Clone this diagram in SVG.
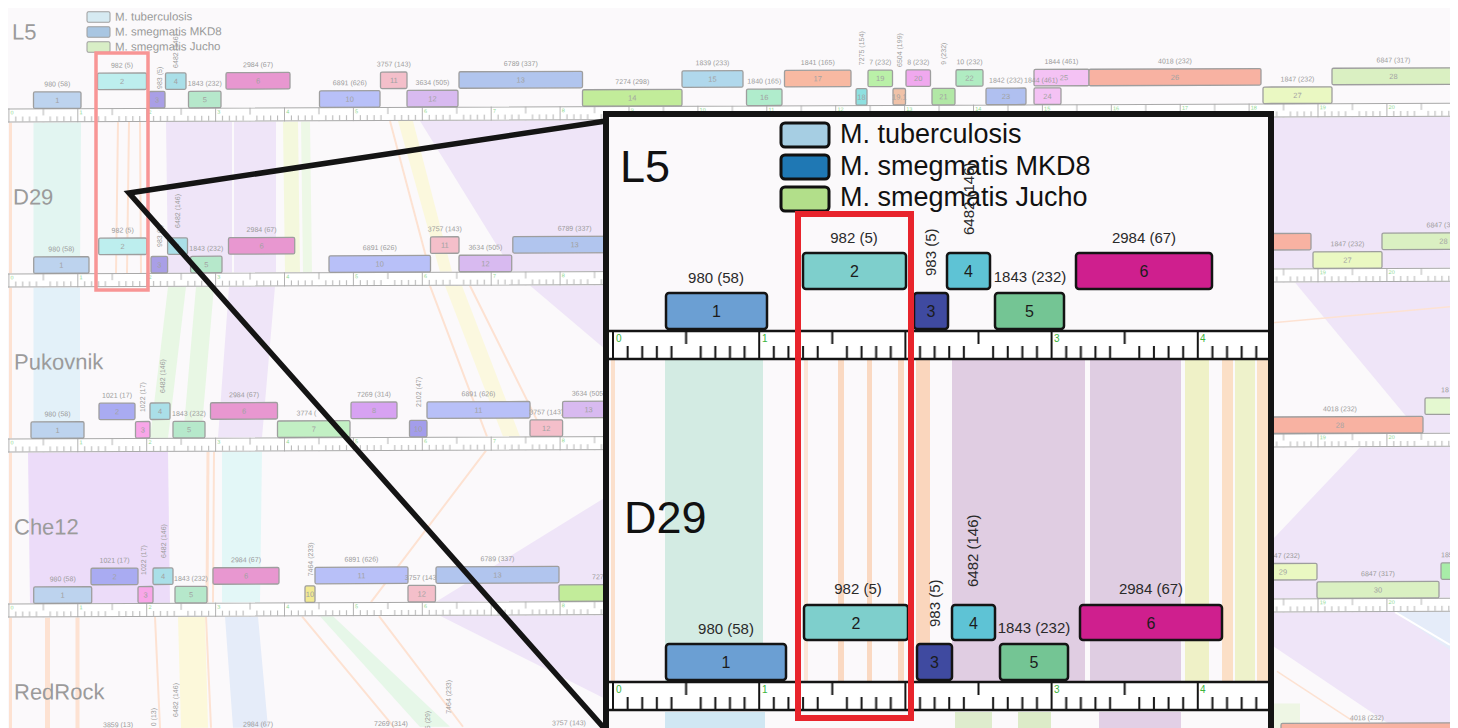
<svg xmlns="http://www.w3.org/2000/svg" width="1458" height="728" viewBox="0 0 1458 728">
<defs>
<style>
.gb{stroke:#9e9e9e;stroke-width:1.3}
.gl{font-family:"Liberation Sans",Arial,sans-serif;font-size:7px;fill:#9a9a9a;text-anchor:middle}
.gv{font-family:"Liberation Sans",Arial,sans-serif;font-size:7px;fill:#9a9a9a}
.gn{font-family:"Liberation Sans",Arial,sans-serif;font-size:7.5px;fill:#a2a2a2;text-anchor:middle}
.rn{font-family:"Liberation Sans",Arial,sans-serif;font-size:22px;fill:#9b9b9b}
.kb{font-family:"Liberation Sans",Arial,sans-serif;font-size:5.5px;fill:#8fd98f}
.rl{stroke:#a9a9a9;stroke-width:1;fill:none}
.pe{stroke:#fde2d2;fill:none}
.ib{stroke:#141414;stroke-width:2.5}
.il{font-family:"Liberation Sans",Arial,sans-serif;font-size:15px;fill:#2a2a2a;text-anchor:middle}
.iv{font-family:"Liberation Sans",Arial,sans-serif;font-size:15px;fill:#2a2a2a}
.in{font-family:"Liberation Sans",Arial,sans-serif;font-size:16px;fill:#1c1c1c;text-anchor:middle}
.ik{font-family:"Liberation Sans",Arial,sans-serif;font-size:10px;fill:#3cb43c}
.lg{font-family:"Liberation Sans",Arial,sans-serif;font-size:27px;fill:#111}
.lgs{font-family:"Liberation Sans",Arial,sans-serif;font-size:11.5px;fill:#999}
.big{font-family:"Liberation Sans",Arial,sans-serif;font-size:45px;fill:#111}
</style>
<pattern id="rb" x="8.4" y="0" width="68.9" height="14" patternUnits="userSpaceOnUse">
<path d="M0.5,0V14M34.95,0V7M7.39,8V13M14.28,8V13M21.17,8V13M28.06,8V13M41.84,8V13M48.73,8V13M55.62,8V13M62.51,8V13" stroke="#a9a9a9" stroke-width="0.9" fill="none"/>
</pattern>
<pattern id="ri" x="612" y="0" width="146.2" height="28" patternUnits="userSpaceOnUse">
<path d="M1,0V28M74.1,0V13M15.62,15V27M30.24,15V27M44.86,15V27M59.48,15V27M88.72,15V27M103.34,15V27M117.96,15V27M132.58,15V27" stroke="#141414" stroke-width="2" fill="none"/>
</pattern>
<clipPath id="mapClip"><rect x="8" y="8" width="1442" height="720"/></clipPath>
<clipPath id="insetClip"><rect x="606" y="114" width="665" height="614"/></clipPath>
</defs>
<rect width="1458" height="728" fill="#fff"/>
<rect x="8" y="8" width="1442" height="720" fill="#fbf9fb"/>
<g clip-path="url(#mapClip)">
<g id="map" transform="matrix(1,-0.004,0,1,0,0.6)">
<g id="bands">
<path class="pe" stroke-width="3" d="M10.5,122V273M10.5,287V438M10.5,452V603M10.5,617V728"/>
<path fill="#e2f5f1" d="M33.5,122H81L80,273H33.5Z"/>
<path class="pe" stroke-width="2" d="M118,122L116,273M129,122L127,273M140,122L141,273"/>
<path fill="#efe5f8" d="M166,122H232V273H168Z"/>
<path fill="#efe5f8" d="M234,122H276V273H234Z"/>
<path fill="#f4f8dd" d="M283,122H298L300,273H285Z"/>
<path fill="#edf8e6" d="M301,122H310L312,273H303Z"/>
<path class="pe" stroke-width="2" d="M390,122L430,273"/>
<path fill="#fbf8dd" d="M398,122H413L452,273H440Z"/>
<path fill="#efe5f8" d="M420,122H604V273H513Z"/>
<path fill="#efe5f8" d="M1265,122H1450V273H1265Z"/>
<path fill="#e3f1f9" d="M33.5,287H80V438H33.5Z"/>
<path fill="#e8f7e4" d="M168,287H186L168,438H150Z"/>
<path fill="#e8f7e4" d="M196,287H214L201,438H183Z"/>
<path fill="#efe5f8" d="M229,287H275L262,438H218Z"/>
<path fill="#fbf8df" d="M445,287H462L520,438H503Z"/>
<path class="pe" stroke-width="2" d="M430,287L487,438M470,287L545,438"/>
<path fill="#efe5f8" d="M530,287H604V350Z"/>
<path fill="#efe5f8" d="M1295,287H1450V438H1420Z"/>
<path class="pe" stroke-width="1.5" d="M1265,328L1450,312"/>
<path fill="#ecdcf9" d="M28,452H168L170,603H30Z"/>
<path fill="#e3f7f7" d="M222,452H262L260,603H222Z"/>
<path class="pe" stroke-width="3" d="M208,452L207,603"/>
<path class="pe" stroke-width="2" d="M214,452L213,603M486,452L371,603"/>
<path fill="#efe5f8" d="M604,500V603H436Z"/>
<path fill="#efe5f8" d="M1360,452H1450V603H1265V552Z"/>
<path class="pe" stroke-width="5" d="M47.5,617V728"/>
<path class="pe" stroke-width="4" d="M77.5,617V728"/>
<path class="pe" stroke-width="2" d="M155,617L160,728M206,617L211,728M302,617L394,728M379,617L463,728"/>
<path fill="#fcf8da" d="M178,617H205L208,728H181Z"/>
<path fill="#e5ecf9" d="M225,617H258L268,728H233Z"/>
<path fill="#e6f7e8" d="M320,617H333L450,728H420Z"/>
<path fill="#efe5f8" d="M440,617H604V700Z"/>
<path fill="#efe5f8" d="M1265,617H1450V733H1395L1265,645Z"/>
<path fill="#e5ecf9" d="M1395,617H1450V655Z"/>
<path stroke="#fff" stroke-width="2" fill="none" d="M1395,617L1450,650"/>
<path class="pe" stroke-width="1.5" d="M1277,676L1353,726"/>
<path fill="#eef6e4" d="M1265,708H1300V733H1265Z"/>
</g>
<g id="legend-small">
<rect x="87" y="11.5" width="23" height="10.5" rx="1.5" fill="#d6eaf2" stroke="#9e9e9e"/>
<rect x="87" y="26.5" width="23" height="10.5" rx="1.5" fill="#a9c6e2" stroke="#9e9e9e"/>
<rect x="87" y="41.5" width="23" height="10.5" rx="1.5" fill="#d8eec6" stroke="#9e9e9e"/>
<text class="lgs" x="115" y="20.5">M. tuberculosis</text>
<text class="lgs" x="115" y="35.5">M. smegmatis MKD8</text>
<text class="lgs" x="115" y="50.5">M. smegmatis Jucho</text>
</g>
<g id="row-L5" transform="translate(0,108)">
<text class="rn" x="12" y="-69">L5</text>
<rect x="8" y="0" width="1442" height="14" fill="#fff"/><rect x="8" y="0" width="1442" height="14" fill="url(#rb)"/>
<path class="rl" d="M8,0.5H1450M8,13.5H1450"/>
<g class="kb"><text x="10.6" y="6">0</text><text x="79.5" y="6">1</text><text x="148.4" y="6">2</text><text x="217.3" y="6">3</text><text x="286.2" y="6">4</text><text x="355.1" y="6">5</text><text x="424" y="6">6</text><text x="492.9" y="6">7</text><text x="561.8" y="6">8</text><text x="630.7" y="6">9</text><text x="699.6" y="6">10</text><text x="768.5" y="6">11</text><text x="837.4" y="6">12</text><text x="906.3" y="6">13</text><text x="975.2" y="6">14</text><text x="1044.1" y="6">15</text><text x="1113" y="6">16</text><text x="1181.9" y="6">17</text><text x="1250.8" y="6">18</text><text x="1319.7" y="6">19</text><text x="1388.6" y="6">20</text></g>
<g id="L5-1"><rect class="gb" x="33.5" y="-16.5" width="47.5" height="16.5" rx="1.5" fill="#bdd3ee"/><text class="gn" x="57.3" y="-5.5">1</text><text class="gl" x="57.3" y="-22">980 (58)</text></g>
<g id="L5-2"><rect class="gb" x="97.5" y="-35" width="49" height="16.5" rx="1.5" fill="#bdeeee"/><text class="gn" x="122" y="-24">2</text><text class="gl" x="122" y="-40.5">982 (5)</text></g>
<g id="L5-3"><rect class="gb" x="149" y="-16.5" width="16" height="16.5" rx="1.5" fill="#a99fe6"/><text class="gn" x="157" y="-5.5">3</text><text class="gv" transform="translate(161.5,-19) rotate(-90)">983 (5)</text></g>
<g id="L5-4"><rect class="gb" x="165.5" y="-35" width="20.5" height="16.5" rx="1.5" fill="#aadfe8"/><text class="gn" x="175.8" y="-24">4</text><text class="gv" transform="translate(177.5,-40) rotate(-90)">6482 (146)</text></g>
<g id="L5-5"><rect class="gb" x="188.5" y="-16.5" width="32.5" height="16.5" rx="1.5" fill="#b6e8cb"/><text class="gn" x="204.8" y="-5.5">5</text><text class="gl" x="204.8" y="-22">1843 (232)</text></g>
<g id="L5-6"><rect class="gb" x="226" y="-35" width="64" height="16.5" rx="1.5" fill="#e897d0"/><text class="gn" x="258" y="-24">6</text><text class="gl" x="258" y="-40.5">2984 (67)</text></g>
<g id="L5-10"><rect class="gb" x="319.5" y="-16.5" width="60.5" height="16.5" rx="1.5" fill="#b8c0f8"/><text class="gn" x="349.8" y="-5.5">10</text><text class="gl" x="349.8" y="-22">6891 (626)</text></g>
<g id="L5-11"><rect class="gb" x="380.5" y="-35" width="26.5" height="16.5" rx="1.5" fill="#f4bfca"/><text class="gn" x="393.8" y="-24">11</text><text class="gl" x="393.8" y="-40.5">3757 (143)</text></g>
<g id="L5-12"><rect class="gb" x="407" y="-16.5" width="51" height="16.5" rx="1.5" fill="#d8baf0"/><text class="gn" x="432.5" y="-5.5">12</text><text class="gl" x="432.5" y="-22">3634 (505)</text></g>
<g id="L5-13"><rect class="gb" x="459" y="-35" width="123.5" height="16.5" rx="1.5" fill="#b1c5ee"/><text class="gn" x="520.8" y="-24">13</text><text class="gl" x="520.8" y="-40.5">6789 (337)</text></g>
<g id="L5-14"><rect class="gb" x="582.5" y="-16.5" width="99.5" height="16.5" rx="1.5" fill="#c2ec9a"/><text class="gn" x="632.3" y="-5.5">14</text><text class="gl" x="632.3" y="-22">7274 (298)</text></g>
<g id="L5-15"><rect class="gb" x="682" y="-35" width="61" height="16.5" rx="1.5" fill="#b0d8ec"/><text class="gn" x="712.5" y="-24">15</text><text class="gl" x="712.5" y="-40.5">1839 (233)</text></g>
<g id="L5-16"><rect class="gb" x="746.5" y="-16.5" width="35.5" height="16.5" rx="1.5" fill="#b0eccc"/><text class="gn" x="764.3" y="-5.5">16</text><text class="gl" x="764.3" y="-22">1840 (165)</text></g>
<g id="L5-17"><rect class="gb" x="784.5" y="-35" width="66.5" height="16.5" rx="1.5" fill="#f8b9a2"/><text class="gn" x="817.8" y="-24">17</text><text class="gl" x="817.8" y="-40.5">1841 (165)</text></g>
<g id="L5-18"><rect class="gb" x="856" y="-16.5" width="11" height="16.5" rx="1.5" fill="#8ee0e0"/><text class="gn" x="861.5" y="-5.5">18</text><text class="gv" transform="translate(864,-40) rotate(-90)">7275 (154)</text></g>
<g id="L5-19"><rect class="gb" x="868" y="-35" width="24.5" height="16.5" rx="1.5" fill="#baf0a8"/><text class="gn" x="880.3" y="-24">19</text><text class="gl" x="880.3" y="-40.5">7 (232)</text></g>
<g id="L5-19-1"><rect class="gb" x="893" y="-16.5" width="12.5" height="16.5" rx="1.5" fill="#f0c2a8"/><text class="gn" x="899.3" y="-5.5">19.1</text><text class="gv" transform="translate(901.5,-38) rotate(-90)">6504 (199)</text></g>
<g id="L5-20"><rect class="gb" x="906" y="-35" width="24.5" height="16.5" rx="1.5" fill="#f0a8ee"/><text class="gn" x="918.3" y="-24">20</text><text class="gl" x="918.3" y="-40.5">8 (232)</text></g>
<g id="L5-21"><rect class="gb" x="932" y="-16.5" width="23" height="16.5" rx="1.5" fill="#b2e8a6"/><text class="gn" x="943.5" y="-5.5">21</text><text class="gv" transform="translate(945.5,-40) rotate(-90)">9 (232)</text></g>
<g id="L5-22"><rect class="gb" x="956" y="-35" width="27" height="16.5" rx="1.5" fill="#b0ecc2"/><text class="gn" x="969.5" y="-24">22</text><text class="gl" x="969.5" y="-40.5">10 (232)</text></g>
<g id="L5-23"><rect class="gb" x="986" y="-16.5" width="40" height="16.5" rx="1.5" fill="#b0c0f0"/><text class="gn" x="1006" y="-5.5">23</text><text class="gl" x="1006" y="-22">1842 (232)</text></g>
<g id="L5-25"><rect class="gb" x="1034" y="-35" width="55" height="16.5" rx="1.5" fill="#f4c2f4"/><text class="gn" x="1064" y="-24">25</text><text class="gl" x="1061.5" y="-40.5">1844 (461)</text></g>
<g id="L5-24"><rect class="gb" x="1034" y="-16.5" width="27" height="16.5" rx="1.5" fill="#f4c2f4"/><text class="gn" x="1047.5" y="-5.5">24</text><text class="gl" x="1041" y="-22">1844 (461)</text></g>
<g id="L5-26"><rect class="gb" x="1089" y="-35" width="172" height="16.5" rx="1.5" fill="#f8b2a2"/><text class="gn" x="1175" y="-24">26</text><text class="gl" x="1175" y="-40.5">4018 (232)</text></g>
<g id="L5-27"><rect class="gb" x="1263" y="-16.5" width="69" height="16.5" rx="1.5" fill="#eaf8c2"/><text class="gn" x="1297.5" y="-5.5">27</text><text class="gl" x="1297.5" y="-22">1847 (232)</text></g>
<g id="L5-28"><rect class="gb" x="1332" y="-35" width="123" height="16.5" rx="1.5" fill="#daf0c2"/><text class="gn" x="1393.5" y="-24">28</text><text class="gl" x="1393.5" y="-40.5">6847 (317)</text></g>
</g>
<g id="row-D29" transform="translate(0,273)">
<text class="rn" x="13" y="-69">D29</text>
<rect x="8" y="0" width="1442" height="14" fill="#fff"/><rect x="8" y="0" width="1442" height="14" fill="url(#rb)"/>
<path class="rl" d="M8,0.5H1450M8,13.5H1450"/>
<g class="kb"><text x="10.6" y="6">0</text><text x="79.5" y="6">1</text><text x="148.4" y="6">2</text><text x="217.3" y="6">3</text><text x="286.2" y="6">4</text><text x="355.1" y="6">5</text><text x="424" y="6">6</text><text x="492.9" y="6">7</text><text x="561.8" y="6">8</text><text x="1319.7" y="6">19</text><text x="1388.6" y="6">20</text></g>
<g id="D29-1"><rect class="gb" x="33.7" y="-16.5" width="55.3" height="16.5" rx="1.5" fill="#bdd3ee"/><text class="gn" x="61.4" y="-5.5">1</text><text class="gl" x="61.4" y="-22">980 (58)</text></g>
<g id="D29-2"><rect class="gb" x="98.7" y="-35" width="48" height="16.5" rx="1.5" fill="#bdeeee"/><text class="gn" x="122.7" y="-24">2</text><text class="gl" x="122.7" y="-40.5">982 (5)</text></g>
<g id="D29-3"><rect class="gb" x="151" y="-16.5" width="16.6" height="16.5" rx="1.5" fill="#a99fe6"/><text class="gn" x="159.3" y="-5.5">3</text><text class="gv" transform="translate(161.8,-26) rotate(-90)">983 (5)</text></g>
<g id="D29-4"><rect class="gb" x="167.6" y="-35" width="19.9" height="16.5" rx="1.5" fill="#aadfe8"/><text class="gn" x="177.6" y="-24">4</text><text class="gv" transform="translate(180,-45) rotate(-90)">6482 (146)</text></g>
<g id="D29-5"><rect class="gb" x="190.6" y="-16.5" width="31.4" height="16.5" rx="1.5" fill="#b6e8cb"/><text class="gn" x="206.3" y="-5.5">5</text><text class="gl" x="206.3" y="-22">1843 (232)</text></g>
<g id="D29-6"><rect class="gb" x="228.5" y="-35" width="66.2" height="16.5" rx="1.5" fill="#e897d0"/><text class="gn" x="261.6" y="-24">6</text><text class="gl" x="261.6" y="-40.5">2984 (67)</text></g>
<g id="D29-10"><rect class="gb" x="329" y="-16.5" width="101.5" height="16.5" rx="1.5" fill="#b8c0f8"/><text class="gn" x="379.8" y="-5.5">10</text><text class="gl" x="379.8" y="-22">6891 (626)</text></g>
<g id="D29-11"><rect class="gb" x="430.5" y="-35" width="28.5" height="16.5" rx="1.5" fill="#f4bfca"/><text class="gn" x="444.8" y="-24">11</text><text class="gl" x="444.8" y="-40.5">3757 (143)</text></g>
<g id="D29-12"><rect class="gb" x="459" y="-16.5" width="52.7" height="16.5" rx="1.5" fill="#d8baf0"/><text class="gn" x="485.4" y="-5.5">12</text><text class="gl" x="485.4" y="-22">3634 (505)</text></g>
<g id="D29-13"><rect class="gb" x="512.8" y="-35" width="123.5" height="16.5" rx="1.5" fill="#b1c5ee"/><text class="gn" x="574.6" y="-24">13</text><text class="gl" x="574.6" y="-40.5">6789 (337)</text></g>
<g id="D29-26"><rect class="gb" x="1138" y="-35" width="173" height="16.5" rx="1.5" fill="#f8b2a2"/></g>
<g id="D29-27"><rect class="gb" x="1313" y="-16.5" width="69" height="16.5" rx="1.5" fill="#eaf8c2"/><text class="gn" x="1347.5" y="-5.5">27</text><text class="gl" x="1347.5" y="-22">1847 (232)</text></g>
<g id="D29-28"><rect class="gb" x="1382" y="-35" width="123" height="16.5" rx="1.5" fill="#daf0c2"/><text class="gn" x="1443.5" y="-24">28</text><text class="gl" x="1443.5" y="-40.5">6847 (317)</text></g>
</g>
<g id="row-Pukovnik" transform="translate(0,438)">
<text class="rn" x="14" y="-69">Pukovnik</text>
<rect x="8" y="0" width="1442" height="14" fill="#fff"/><rect x="8" y="0" width="1442" height="14" fill="url(#rb)"/>
<path class="rl" d="M8,0.5H1450M8,13.5H1450"/>
<g class="kb"><text x="10.6" y="6">0</text><text x="79.5" y="6">1</text><text x="148.4" y="6">2</text><text x="217.3" y="6">3</text><text x="286.2" y="6">4</text><text x="355.1" y="6">5</text><text x="424" y="6">6</text><text x="492.9" y="6">7</text><text x="561.8" y="6">8</text><text x="1319.7" y="6">19</text><text x="1388.6" y="6">20</text></g>
<g id="Puk-1"><rect class="gb" x="31" y="-16.5" width="53" height="16.5" rx="1.5" fill="#bdd3ee"/><text class="gn" x="57.5" y="-5.5">1</text><text class="gl" x="57.5" y="-22">980 (58)</text></g>
<g id="Puk-2"><rect class="gb" x="99" y="-35" width="36" height="16.5" rx="1.5" fill="#a9abf2"/><text class="gn" x="117" y="-24">2</text><text class="gl" x="117" y="-40.5">1021 (17)</text></g>
<g id="Puk-3"><rect class="gb" x="135.5" y="-16.5" width="14.5" height="16.5" rx="1.5" fill="#f8a6e8"/><text class="gn" x="142.8" y="-5.5">3</text><text class="gv" transform="translate(145,-26) rotate(-90)">1022 (17)</text></g>
<g id="Puk-4"><rect class="gb" x="150" y="-35" width="20" height="16.5" rx="1.5" fill="#aadfe8"/><text class="gn" x="160" y="-24">4</text><text class="gv" transform="translate(165,-45) rotate(-90)">6482 (146)</text></g>
<g id="Puk-5"><rect class="gb" x="173" y="-16.5" width="32" height="16.5" rx="1.5" fill="#b6e8cb"/><text class="gn" x="189" y="-5.5">5</text><text class="gl" x="189" y="-22">1843 (232)</text></g>
<g id="Puk-6"><rect class="gb" x="210.5" y="-35" width="67" height="16.5" rx="1.5" fill="#e897d0"/><text class="gn" x="244" y="-24">6</text><text class="gl" x="244" y="-40.5">2984 (67)</text></g>
<g id="Puk-7"><rect class="gb" x="277.5" y="-16.5" width="72.5" height="16.5" rx="1.5" fill="#c2f0c4"/><text class="gn" x="313.8" y="-5.5">7</text><text class="gv" x="296.5" y="-22">3774 (</text></g>
<g id="Puk-8"><rect class="gb" x="351" y="-35" width="46" height="16.5" rx="1.5" fill="#d7a2f2"/><text class="gn" x="374" y="-24">8</text><text class="gl" x="374" y="-40.5">7269 (314)</text></g>
<g id="Puk-10"><rect class="gb" x="409.5" y="-16.5" width="17.5" height="16.5" rx="1.5" fill="#a39deb"/><text class="gn" x="418.3" y="-5.5">10</text><text class="gv" transform="translate(420.8,-30) rotate(-90)">2102 (47)</text></g>
<g id="Puk-11"><rect class="gb" x="427" y="-35" width="103" height="16.5" rx="1.5" fill="#b8c0f8"/><text class="gn" x="478.5" y="-24">11</text><text class="gl" x="478.5" y="-40.5">6891 (626)</text></g>
<g id="Puk-12"><rect class="gb" x="530" y="-16.5" width="32.6" height="16.5" rx="1.5" fill="#f4bfca"/><text class="gn" x="546.3" y="-5.5">12</text><text class="gl" x="546.3" y="-22">3757 (143)</text></g>
<g id="Puk-13"><rect class="gb" x="562.6" y="-35" width="52" height="16.5" rx="1.5" fill="#d8baf0"/><text class="gn" x="588.6" y="-24">13</text><text class="gl" x="588.6" y="-40.5">3634 (505)</text></g>
<g id="Puk-28"><rect class="gb" x="1252" y="-16.5" width="171" height="16.5" rx="1.5" fill="#f8b2a2"/><text class="gn" x="1340" y="-5.5">28</text><text class="gl" x="1340" y="-22">4018 (232)</text></g>
<g id="Puk-29"><rect class="gb" x="1425" y="-35" width="80" height="16.5" rx="1.5" fill="#e4f8d0"/><text class="gv" x="1441" y="-40.5">18</text></g>
</g>
<g id="row-Che12" transform="translate(0,603)">
<text class="rn" x="14" y="-69">Che12</text>
<rect x="8" y="0" width="1442" height="14" fill="#fff"/><rect x="8" y="0" width="1442" height="14" fill="url(#rb)"/>
<path class="rl" d="M8,0.5H1450M8,13.5H1450"/>
<g class="kb"><text x="10.6" y="6">0</text><text x="79.5" y="6">1</text><text x="148.4" y="6">2</text><text x="217.3" y="6">3</text><text x="286.2" y="6">4</text><text x="355.1" y="6">5</text><text x="424" y="6">6</text><text x="492.9" y="6">7</text><text x="561.8" y="6">8</text><text x="1319.7" y="6">19</text><text x="1388.6" y="6">20</text></g>
<g id="Che-1"><rect class="gb" x="33.7" y="-16.5" width="58" height="16.5" rx="1.5" fill="#bdd3ee"/><text class="gn" x="62.7" y="-5.5">1</text><text class="gl" x="62.7" y="-22">980 (58)</text></g>
<g id="Che-2"><rect class="gb" x="91" y="-35" width="47" height="16.5" rx="1.5" fill="#a9abf2"/><text class="gn" x="114.5" y="-24">2</text><text class="gl" x="114.5" y="-40.5">1021 (17)</text></g>
<g id="Che-3"><rect class="gb" x="138" y="-16.5" width="15" height="16.5" rx="1.5" fill="#f8a6e8"/><text class="gn" x="145.5" y="-5.5">3</text><text class="gv" transform="translate(146,-28) rotate(-90)">1022 (17)</text></g>
<g id="Che-4"><rect class="gb" x="153" y="-35" width="20" height="16.5" rx="1.5" fill="#aadfe8"/><text class="gn" x="163" y="-24">4</text><text class="gv" transform="translate(166,-45) rotate(-90)">6482 (146)</text></g>
<g id="Che-5"><rect class="gb" x="175" y="-16.5" width="32" height="16.5" rx="1.5" fill="#b6e8cb"/><text class="gn" x="191" y="-5.5">5</text><text class="gl" x="191" y="-22">1843 (232)</text></g>
<g id="Che-6"><rect class="gb" x="213" y="-35" width="66" height="16.5" rx="1.5" fill="#e897d0"/><text class="gn" x="246" y="-24">6</text><text class="gl" x="246" y="-40.5">2984 (67)</text></g>
<g id="Che-10"><rect class="gb" x="305" y="-16.5" width="10" height="16.5" rx="1.5" fill="#f2ea92"/><text class="gn" x="310" y="-5.5">10</text><text class="gv" transform="translate(312.5,-26) rotate(-90)">7464 (233)</text></g>
<g id="Che-11"><rect class="gb" x="315" y="-35" width="93" height="16.5" rx="1.5" fill="#b8c0f8"/><text class="gn" x="361.5" y="-24">11</text><text class="gl" x="361.5" y="-40.5">6891 (626)</text></g>
<g id="Che-12"><rect class="gb" x="408" y="-16.5" width="27.5" height="16.5" rx="1.5" fill="#f4bfca"/><text class="gn" x="421.8" y="-5.5">12</text><text class="gl" x="421.8" y="-22">3757 (143)</text></g>
<g id="Che-13"><rect class="gb" x="436" y="-35" width="123" height="16.5" rx="1.5" fill="#b1c5ee"/><text class="gn" x="497.5" y="-24">13</text><text class="gl" x="497.5" y="-40.5">6789 (337)</text></g>
<g id="Che-14"><rect class="gb" x="559" y="-16.5" width="100" height="16.5" rx="1.5" fill="#c2ec9a"/><text class="gn" x="609" y="-5.5">14</text><text class="gl" x="609" y="-22">7274 (298)</text></g>
<g id="Che-29"><rect class="gb" x="1249" y="-35" width="68" height="16.5" rx="1.5" fill="#eaf8c2"/><text class="gn" x="1283" y="-24">29</text><text class="gl" x="1283" y="-40.5">1847 (232)</text></g>
<g id="Che-30"><rect class="gb" x="1317" y="-16.5" width="122" height="16.5" rx="1.5" fill="#daf0c2"/><text class="gn" x="1378" y="-5.5">30</text><text class="gl" x="1378" y="-22">6847 (317)</text></g>
<g id="Che-31"><rect class="gb" x="1441" y="-35" width="60" height="16.5" rx="1.5" fill="#a8eca8"/><text class="gv" x="1441" y="-40.5">185</text></g>
</g>
<g id="row-RedRock" transform="translate(0,768)">
<text class="rn" x="14" y="-69">RedRock</text>
<text class="gl" x="118" y="-41">3859 (13)</text>
<text class="gv" text-anchor="end" transform="translate(155.5,-60) rotate(-90)">0 (13)</text>
<text class="gv" transform="translate(177.5,-51) rotate(-90)">6482 (146)</text>
<text class="gl" x="258" y="-41">2984 (67)</text>
<text class="gl" x="391" y="-41">7269 (314)</text>
<text class="gv" text-anchor="end" transform="translate(429.5,-56) rotate(-90)">5 (29)</text>
<text class="gv" transform="translate(451,-53) rotate(-90)">7464 (233)</text>
<text class="gl" x="569" y="-41">3757 (143)</text>
<g id="Red-28"><rect class="gb" x="1281" y="-40" width="174" height="16.5" rx="1.5" fill="#f8b2a2"/><text class="gl" x="1367" y="-43">4018 (232)</text></g>
</g>
</g>
</g>
<rect id="highlight-small" x="96" y="53" width="52" height="237" fill="none" stroke="#f89595" stroke-width="3.5"/>
<g id="connectors">
<path d="M606,121L129,193L604,728" fill="none" stroke="#141414" stroke-width="5.5"/>
</g>
<g id="inset">
<g clip-path="url(#insetClip)">
<rect x="606" y="114" width="665" height="614" fill="#fbf9fb"/>
<g id="inset-bands">
<rect x="611" y="359" width="4" height="323" fill="#fbe0cc"/>
<rect x="665" y="359" width="98" height="323" fill="#d3ebe3"/>
<rect x="804" y="359" width="4" height="323" fill="#fbe5d6"/>
<rect x="838" y="359" width="6" height="323" fill="#fad9c2"/>
<rect x="867" y="359" width="5" height="323" fill="#fad9c2"/>
<rect x="898" y="359" width="6" height="323" fill="#fad9c2"/>
<rect x="916" y="359" width="14" height="323" fill="#fad6bd"/>
<rect x="952" y="359" width="133" height="323" fill="#e0cde2"/>
<rect x="1090" y="359" width="91" height="323" fill="#dfcde2"/>
<rect x="1185" y="359" width="24" height="323" fill="#eff1c7"/>
<rect x="1222" y="359" width="11" height="323" fill="#fbdfc6"/>
<rect x="1235" y="359" width="20" height="323" fill="#eef2cb"/>
<rect x="1257" y="359" width="11" height="323" fill="#fbe2c8"/>
<rect x="665" y="712" width="100" height="20" fill="#d0e7f3"/>
<rect x="955" y="712" width="37" height="20" fill="#deeccd"/>
<rect x="1018" y="712" width="33" height="20" fill="#dcebc8"/>
<rect x="1099" y="712" width="82" height="20" fill="#e2d0e6"/>
</g>
<text class="big" x="620" y="182">L5</text>
<g id="inset-legend">
<rect x="781" y="123" width="48" height="24" rx="4" fill="#a6cee3" stroke="#111" stroke-width="3"/>
<rect x="781" y="155" width="48" height="24" rx="4" fill="#1f78b4" stroke="#111" stroke-width="3"/>
<rect x="781" y="187" width="48" height="24" rx="4" fill="#b2df8a" stroke="#111" stroke-width="3"/>
<text class="lg" x="840" y="143">M. tuberculosis</text>
<text class="lg" x="840" y="175">M. smegmatis MKD8</text>
<text class="lg" x="840" y="206">M. smegmatis Jucho</text>
</g>
<g id="inset-ruler-L5" transform="translate(0,331)">
<rect x="609" y="0" width="660" height="28" fill="#fff"/><rect x="609" y="0" width="660" height="28" fill="url(#ri)"/>
<path d="M609,0H1270M609,28H1270" stroke="#141414" stroke-width="2.5"/>
<text class="ik" x="616" y="11">0</text><text class="ik" x="762" y="11">1</text><text class="ik" x="1054" y="11">3</text><text class="ik" x="1200" y="11">4</text>
</g>
<g id="in-L5-1"><rect class="ib" x="666" y="293" width="101" height="36" rx="3" fill="#6b9fd3"/><text class="in" x="716.5" y="317">1</text><text class="il" x="716" y="283">980 (58)</text></g>
<g id="in-L5-2"><rect class="ib" x="803" y="253" width="103" height="36" rx="3" fill="#7ecfcc"/><text class="in" x="854.5" y="277">2</text><text class="il" x="854" y="243">982 (5)</text></g>
<g id="in-L5-3"><rect class="ib" x="914" y="293" width="34" height="36" rx="3" fill="#3f4aa0"/><text class="in" x="931" y="317">3</text><text class="iv" transform="translate(935.5,276) rotate(-90)">983 (5)</text></g>
<g id="in-L5-4"><rect class="ib" x="947" y="253" width="43" height="36" rx="3" fill="#5ec3d5"/><text class="in" x="968.5" y="277">4</text><text class="iv" transform="translate(973.5,235) rotate(-90)">6482 (146)</text></g>
<g id="in-L5-5"><rect class="ib" x="995" y="293" width="69" height="36" rx="3" fill="#74c594"/><text class="in" x="1029.5" y="317">5</text><text class="il" x="1030" y="282">1843 (232)</text></g>
<g id="in-L5-6"><rect class="ib" x="1076" y="253" width="136" height="36" rx="3" fill="#cf1f8e"/><text class="in" x="1144" y="277">6</text><text class="il" x="1144" y="243">2984 (67)</text></g>
<text class="big" x="624" y="533">D29</text>
<g id="inset-ruler-D29" transform="translate(0,682)">
<rect x="609" y="0" width="660" height="28" fill="#fff"/><rect x="609" y="0" width="660" height="28" fill="url(#ri)"/>
<path d="M609,0H1270M609,28H1270" stroke="#141414" stroke-width="2.5"/>
<text class="ik" x="616" y="11">0</text><text class="ik" x="762" y="11">1</text><text class="ik" x="1054" y="11">3</text><text class="ik" x="1200" y="11">4</text>
</g>
<g id="in-D29-1"><rect class="ib" x="666" y="644" width="120" height="36" rx="3" fill="#6b9fd3"/><text class="in" x="726" y="668">1</text><text class="il" x="726" y="634">980 (58)</text></g>
<g id="in-D29-2"><rect class="ib" x="804" y="605" width="104" height="35" rx="3" fill="#7ecfcc"/><text class="in" x="856" y="628.5">2</text><text class="il" x="858" y="594">982 (5)</text></g>
<g id="in-D29-3"><rect class="ib" x="917" y="644" width="35" height="36" rx="3" fill="#3f4aa0"/><text class="in" x="934.5" y="668">3</text><text class="iv" transform="translate(940.4,627) rotate(-90)">983 (5)</text></g>
<g id="in-D29-4"><rect class="ib" x="952" y="605" width="43" height="35" rx="3" fill="#5ec3d5"/><text class="in" x="973.5" y="628.5">4</text><text class="iv" transform="translate(978.4,587) rotate(-90)">6482 (146)</text></g>
<g id="in-D29-5"><rect class="ib" x="1000" y="644" width="68" height="36" rx="3" fill="#74c594"/><text class="in" x="1034" y="668">5</text><text class="il" x="1034" y="633">1843 (232)</text></g>
<g id="in-D29-6"><rect class="ib" x="1080" y="605" width="142" height="35" rx="3" fill="#cf1f8e"/><text class="in" x="1151" y="628.5">6</text><text class="il" x="1151" y="594">2984 (67)</text></g>
<rect id="highlight-inset" x="798" y="214" width="113" height="504" fill="none" stroke="#e8242c" stroke-width="6"/>
</g>
<rect x="606" y="114" width="665" height="640" fill="none" stroke="#141414" stroke-width="6"/>
</g>
</svg>
